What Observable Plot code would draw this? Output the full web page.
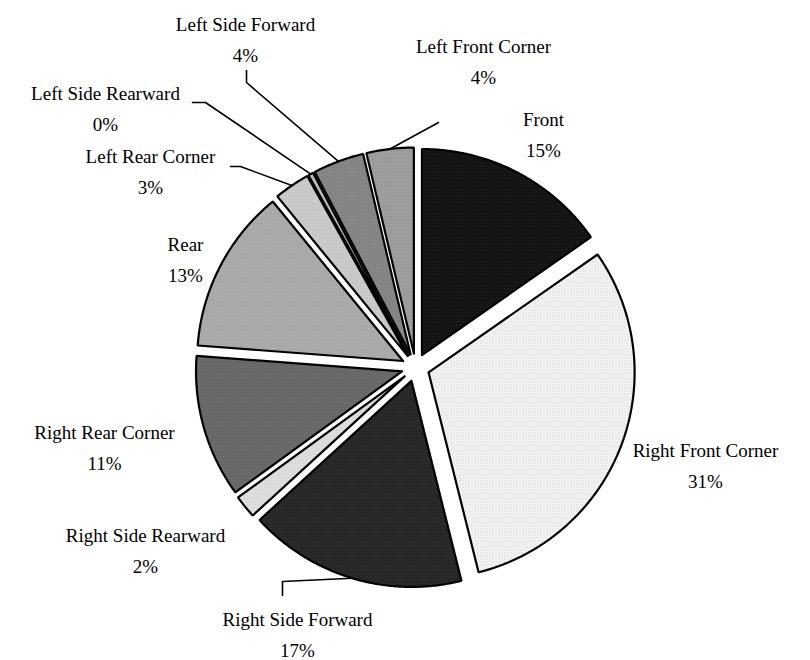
<!DOCTYPE html>
<html><head><meta charset="utf-8">
<script src="https://cdn.jsdelivr.net/npm/d3@7"></script>
<script src="https://cdn.jsdelivr.net/npm/@observablehq/plot@0.6"></script>
<style>body{margin:0;background:#fff} #chart{width:810px;height:660px}</style>
</head><body><div id="chart"></div>
<script>
// ---- data ----
const categories = ["Front","Right Front Corner","Right Side Forward","Right Side Rearward","Right Rear Corner","Rear","Left Rear Corner","Left Side Rearward","Left Side Forward","Left Front Corner"];
const values = [15.3, 30.8, 17.1, 1.8, 11.2, 12.9, 2.8, 0.4, 4.0, 3.7];
const percentLabels = ["15%","31%","17%","2%","11%","13%","3%","0%","4%","4%"];

// ---- layout / style ----
const R = 206, explode = 14;
const labelAnchors = [[128,-236],[290,95],[-118,264],[-270,180],[-311,77],[-230,-111],[-265,-199],[-310,-262],[-170,-331],[68,-309]];
const leaderStarts = {2: [[-133,228],[-133,214]], 6: [[-185,-201],[-175,-201]], 7: [[-223,-265],[-210,-265]], 8: [[-169,-297],[-169,-285]], 9: [[23,-245]]};
const patterns = [["#0a0a0a","#3c3c3c"],["#ffffff","#b4b4b4"],["#1e1e1e","#4c4c4c"],["#e8e8e8","#b0b0b0"],["#5e5e5e","#8c8c8c"],["#b2b2b2","#8a8a8a"],["#d2d2d2","#a6a6a6"],["#c4c4c4","#9a9a9a"],["#7c7c7c","#a2a2a2"],["#a6a6a6","#7a7a7a"]];

const total = d3.sum(values);
let acc = 0;
const slices = values.map((v, i) => {
  const a0 = acc / total * 2 * Math.PI;
  acc += v;
  const a1 = acc / total * 2 * Math.PI;
  return {i, a0, a1, mid: (a0 + a1) / 2};
});
const pol = (r, a) => [r * Math.sin(a), -r * Math.cos(a)];

const marks = [];
slices.forEach(s => {
  const [ox, oy] = pol(explode, s.mid);
  const pts = [{x: ox, y: oy}];
  const n = Math.max(2, Math.ceil((s.a1 - s.a0) / (Math.PI / 360)));
  for (let k = 0; k <= n; k++) {
    const t = s.a0 + (s.a1 - s.a0) * k / n;
    const [px, py] = pol(R, t);
    pts.push({x: ox + px, y: oy + py});
  }
  pts.push({x: ox, y: oy});
  marks.push(Plot.line(pts, {x: "x", y: "y", fill: `url(#pat${s.i})`, stroke: "black", strokeWidth: 2.2, strokeLinejoin: "miter", curve: "linear"}));
});

// leader lines
const leaderPts = [];
Object.entries(leaderStarts).forEach(([k, starts]) => {
  const s = slices[+k];
  const [ex, ey] = pol(R + explode, s.mid);
  starts.forEach(([x, y]) => leaderPts.push({x, y, z: k}));
  leaderPts.push({x: ex, y: ey, z: k});
});
marks.push(Plot.line(leaderPts, {x: "x", y: "y", z: "z", stroke: "black", strokeWidth: 1.6, curve: "linear", strokeLinejoin: "miter"}));

const labelData = categories.map((c, i) => ({x: labelAnchors[i][0], y: labelAnchors[i][1], text: c + "\n" + percentLabels[i]}));
marks.push(Plot.text(labelData, {x: "x", y: "y", text: "text", fontSize: 19, fontFamily: "Liberation Serif, 'Times New Roman', serif", lineHeight: 1.63, fill: "black", textAnchor: "middle"}));

const svg = Plot.plot({
  width: 810, height: 660, margin: 0,
  x: {domain: [-415, 395], range: [0, 810], axis: null},
  y: {domain: [-367, 293], range: [0, 660], axis: null},
  style: {background: "white"},
  marks
});

const defs = d3.select(svg).insert("defs", ":first-child");
patterns.forEach(([base, dot], i) => {
  const p = defs.append("pattern").attr("id", `pat${i}`).attr("patternUnits", "userSpaceOnUse").attr("width", 3).attr("height", 3);
  p.append("rect").attr("width", 3).attr("height", 3).attr("fill", base);
  p.append("rect").attr("width", 1).attr("height", 1).attr("fill", dot);
  p.append("rect").attr("x", 1.5).attr("y", 1.5).attr("width", 1).attr("height", 1).attr("fill", dot);
});
document.getElementById("chart").appendChild(svg);
</script>
</body></html>
